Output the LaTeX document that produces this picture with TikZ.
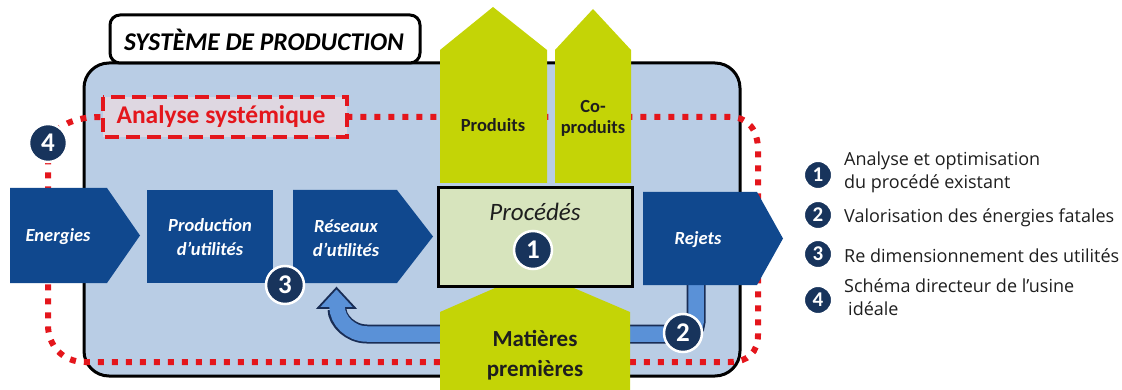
\documentclass[tikz,border=0pt]{standalone}
\usepackage{fontspec}
\setmainfont{Carlito}
\newfontfamily\legfont{Open Sans}
\definecolor{boxblue}{RGB}{185,205,229}
\definecolor{lime}{RGB}{196,212,6}
\definecolor{procgreen}{RGB}{215,228,189}
\definecolor{arrblue}{RGB}{16,72,142}
\definecolor{navy}{RGB}{24,52,92}
\definecolor{reddot}{RGB}{228,22,28}
\definecolor{retblue}{RGB}{90,145,215}
\definecolor{retedge}{RGB}{25,45,85}
\definecolor{dashfill}{RGB}{222,215,225}
\definecolor{txtdark}{RGB}{30,30,30}
\tikzset{
  num/.style={circle, fill=navy, draw=white, line width=2.5pt, text=white,
    font=\fontsize{27}{27}\selectfont\bfseries, minimum size=38pt, inner sep=0pt},
  legnum/.style={num, minimum size=28pt, line width=2pt,
    font=\fontsize{21}{21}\selectfont\bfseries},
  whitetxt/.style={text=white, font=\fontsize{18.5}{24}\selectfont\bfseries\itshape, align=center},
  greentxt/.style={text=txtdark, font=\fontsize{18.5}{21}\selectfont\bfseries, align=center},
  legtext/.style={anchor=west, align=left, text=txtdark,
    font=\legfont\fontsize{18}{23}\selectfont, inner sep=0pt},
  dotline/.style={draw=reddot, line width=6pt, dash pattern=on 6pt off 8pt},
}
\begin{document}
\begin{tikzpicture}[x=1pt,y=-1pt]
\useasboundingbox (0,0) rectangle (1122,390);
% main blue box
\draw[line width=3pt, fill=boxblue, rounded corners=25pt] (84,63) rectangle (740,376);
% title box
\draw[line width=3pt, fill=white, rounded corners=10pt] (110,15) rectangle (420,63);
\node[font=\fontsize{25.5}{25.5}\selectfont\bfseries\itshape] (title) at (264,40) {SYSTÈME DE PRODUCTION};
% red dotted loop
\draw[dotline] (48,143) .. controls (56,125) and (75,117) .. (100,117) -- (730,117)
  .. controls (748,117) and (758,130) .. (758,150) -- (758,335)
  .. controls (758,352) and (748,362) .. (730,362) -- (85,362)
  .. controls (62,362) and (48,345) .. (48,325) -- cycle;
% return arrow
\coordinate (retstart) at (696,280);
\coordinate (retend) at (337,309);
\draw[retedge, line width=19pt] (retstart) -- (696,322) .. controls (696,328.6) and (690.6,334) .. (684,334)
  -- (367,334) .. controls (350.5,334) and (337,320.5) .. (retend);
\draw[retedge, fill=retblue, line width=1.8pt, line join=miter] (318,308) -- (336.5,288) -- (355,308) -- cycle;
\draw[retblue, line width=15.5pt] (retstart) -- (696,322) .. controls (696,328.6) and (690.6,334) .. (684,334)
  -- (367,334) .. controls (350.5,334) and (337,320.5) .. (337,306);
% green arrows
\fill[lime] (440,183) -- (440,50) -- (493,7) -- (547,50) -- (547,183) -- cycle;
\fill[lime] (555,183) -- (555,50) -- (593,9) -- (631,50) -- (631,183) -- cycle;
\fill[lime] (440,395) -- (440,312) -- (534,271) -- (630,312) -- (630,395) -- cycle;
\node[greentxt] (produits) at (493,125) {Produits};
\node[greentxt] (coproduits) at (593,118) {Co-\\produits};
\node[greentxt, font=\fontsize{23}{30}\selectfont\bfseries] (matieres) at (535,355) {Matières\\premières};
% Procedes box
\draw[line width=3pt, fill=procgreen] (438,188) rectangle (632,286);
\node[text=txtdark, font=\fontsize{25}{25}\selectfont\itshape] (procedes) at (535,212) {Procédés};
% blue arrows
\fill[arrblue] (10,188) -- (107,188) -- (140,235.5) -- (107,283) -- (10,283) -- cycle;
\fill[arrblue] (147,190) rectangle (273,283);
\fill[arrblue] (293,190) -- (397,190) -- (433,236.5) -- (397,283) -- (293,283) -- cycle;
\fill[arrblue] (643,192) -- (757,192) -- (783,238.5) -- (757,285) -- (643,285) -- cycle;
\node[whitetxt] (energies) at (58,237) {Energies};
\node[whitetxt] (prod) at (210,237) {Production\\d’utilités};
\node[whitetxt] (reseaux) at (346,238) {Réseaux\\d’utilités};
\node[whitetxt] (rejets) at (698,240) {Rejets};
% dashed box
\draw[draw=reddot, line width=3.5pt, dash pattern=on 14pt off 7pt, fill=dashfill] (103,97) rectangle (347,137);
\node[text=reddot, font=\fontsize{25.5}{25.5}\selectfont\bfseries] (analyse) at (221,117) {Analyse systémique};
% numbered circles
\node[num] (n1) at (533,250) {1};
\node[num] (n2) at (683,333) {2};
\node[num] (n3) at (285,285) {3};
\node[num] (n4) at (48,143) {4};
% legend
\node[legnum] (l1) at (818,175) {1};
\node[legnum] (l2) at (818,215) {2};
\node[legnum] (l3) at (818,254) {3};
\node[legnum] (l4) at (818,300) {4};
\node[legtext] (t1) at (844,172) {Analyse et optimisation\\du procédé existant};
\node[legtext] (t2) at (844,218) {Valorisation des énergies fatales};
\node[legtext] (t3) at (844,256) {Re dimensionnement des utilités};
\node[legtext] (t4) at (844,297) {Schéma directeur de l’usine\\\hspace*{4pt}idéale};
\end{tikzpicture}
\end{document}
